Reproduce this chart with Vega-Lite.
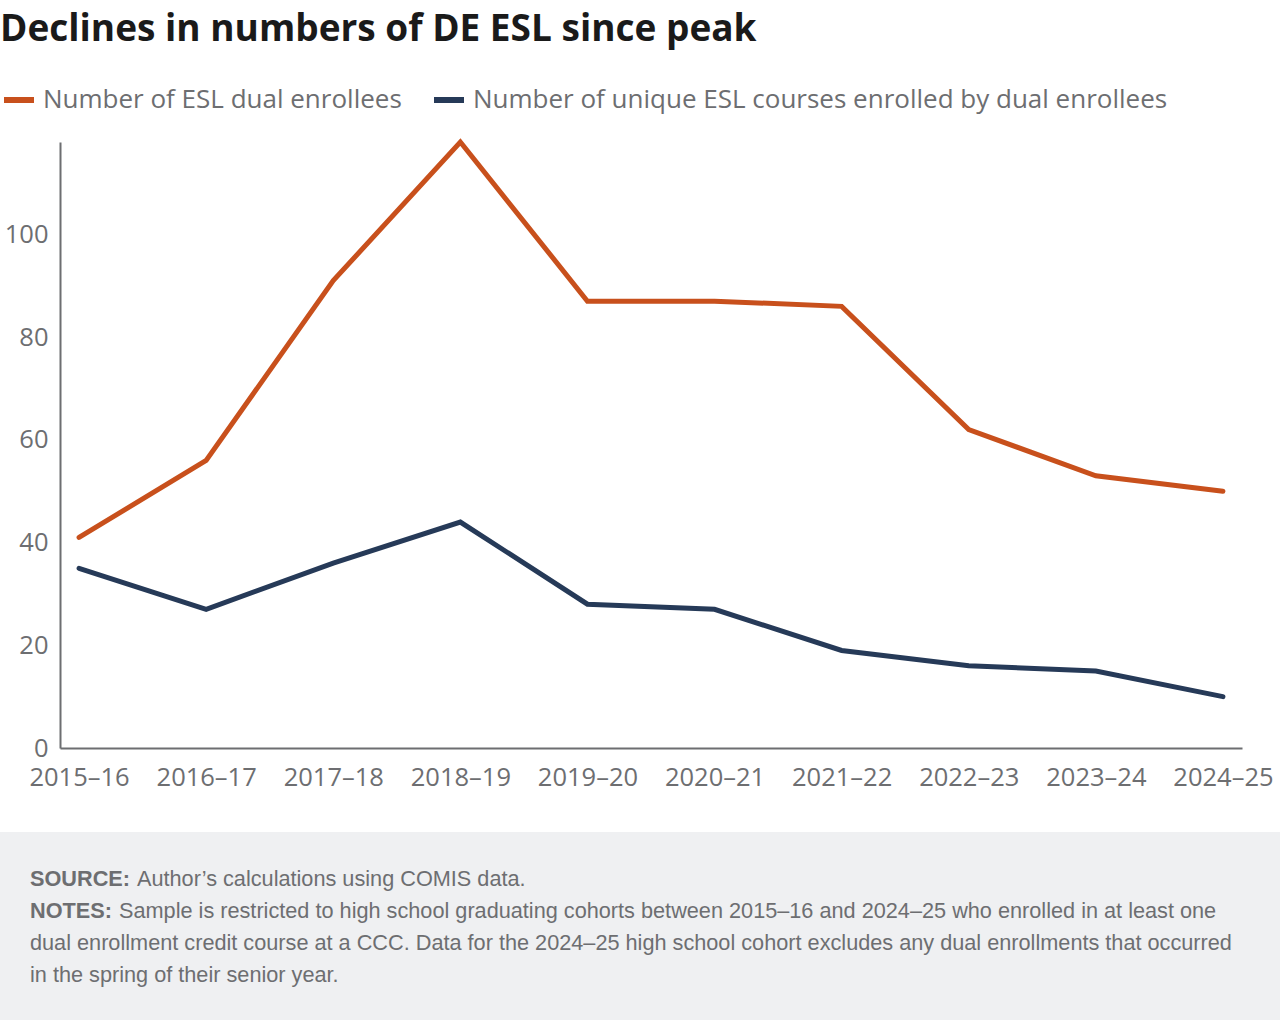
{
  "$schema": "https://vega.github.io/schema/vega-lite/v6.json",
  "background": "white",
  "padding": {"top": 11, "left": 0, "right": 0, "bottom": 0},
  "title": {
    "text": "Declines in numbers of DE ESL since peak",
    "anchor": "start",
    "frame": "bounds",
    "font": "Open Sans",
    "fontSize": 37,
    "fontWeight": "bold",
    "color": "#1a1a1a",
    "offset": 33
  },
  "spacing": 41,
  "config": {
    "font": "Open Sans",
    "view": {"stroke": null}
  },
  "vconcat": [
    {
      "width": 1280,
      "height": 606,
      "data": {
        "values": [
          {"year": "2015–16", "series": "Number of ESL dual enrollees", "value": 41},
          {"year": "2016–17", "series": "Number of ESL dual enrollees", "value": 56},
          {"year": "2017–18", "series": "Number of ESL dual enrollees", "value": 91},
          {"year": "2018–19", "series": "Number of ESL dual enrollees", "value": 118},
          {"year": "2019–20", "series": "Number of ESL dual enrollees", "value": 87},
          {"year": "2020–21", "series": "Number of ESL dual enrollees", "value": 87},
          {"year": "2021–22", "series": "Number of ESL dual enrollees", "value": 86},
          {"year": "2022–23", "series": "Number of ESL dual enrollees", "value": 62},
          {"year": "2023–24", "series": "Number of ESL dual enrollees", "value": 53},
          {"year": "2024–25", "series": "Number of ESL dual enrollees", "value": 50},
          {"year": "2015–16", "series": "Number of unique ESL courses enrolled by dual enrollees", "value": 35},
          {"year": "2016–17", "series": "Number of unique ESL courses enrolled by dual enrollees", "value": 27},
          {"year": "2017–18", "series": "Number of unique ESL courses enrolled by dual enrollees", "value": 36},
          {"year": "2018–19", "series": "Number of unique ESL courses enrolled by dual enrollees", "value": 44},
          {"year": "2019–20", "series": "Number of unique ESL courses enrolled by dual enrollees", "value": 28},
          {"year": "2020–21", "series": "Number of unique ESL courses enrolled by dual enrollees", "value": 27},
          {"year": "2021–22", "series": "Number of unique ESL courses enrolled by dual enrollees", "value": 19},
          {"year": "2022–23", "series": "Number of unique ESL courses enrolled by dual enrollees", "value": 16},
          {"year": "2023–24", "series": "Number of unique ESL courses enrolled by dual enrollees", "value": 15},
          {"year": "2024–25", "series": "Number of unique ESL courses enrolled by dual enrollees", "value": 10}
        ]
      },
      "mark": {"type": "line", "strokeWidth": 5, "strokeCap": "round", "strokeJoin": "miter"},
      "encoding": {
        "x": {
          "field": "year",
          "type": "ordinal",
          "scale": {"type": "point", "padding": 0.15, "range": [60, 1242]},
          "axis": {
            "title": null,
            "labelAngle": 0,
            "ticks": false,
            "domainColor": "#6d6e71",
            "domainWidth": 2,
            "labelColor": "#6d6e71",
            "labelFontSize": 25.5,
            "labelPadding": 17
          }
        },
        "y": {
          "field": "value",
          "type": "quantitative",
          "scale": {"domain": [0, 118], "nice": false},
          "axis": {
            "title": null,
            "offset": -60,
            "values": [0, 20, 40, 60, 80, 100],
            "grid": false,
            "ticks": false,
            "domainColor": "#6d6e71",
            "domainWidth": 2,
            "labelColor": "#6d6e71",
            "labelFontSize": 25.5,
            "labelPadding": 12
          }
        },
        "color": {
          "field": "series",
          "type": "nominal",
          "scale": {
            "domain": ["Number of ESL dual enrollees", "Number of unique ESL courses enrolled by dual enrollees"],
            "range": ["#c8501c", "#263a58"]
          },
          "legend": {
            "title": null,
            "orient": "none",
            "legendX": 1,
            "legendY": -60,
            "direction": "horizontal",
            "symbolType": "stroke",
            "symbolStrokeWidth": 6,
            "symbolSize": 900,
            "labelFontSize": 26,
            "labelColor": "#6d6e71",
            "labelLimit": 1000,
            "labelOffset": 6,
            "columnPadding": 20
          }
        }
      }
    },
    {
      "width": 1280,
      "height": 188,
      "view": {"fill": "#eff0f2", "stroke": null},
      "data": {
        "values": [
          {"line": 1, "label": "SOURCE:", "text": "Author’s calculations using COMIS data."},
          {"line": 2, "label": "NOTES:", "text": "Sample is restricted to high school graduating cohorts between 2015–16 and 2024–25 who enrolled in at least one"},
          {"line": 3, "label": "", "text": "dual enrollment credit course at a CCC. Data for the 2024–25 high school cohort excludes any dual enrollments that occurred"},
          {"line": 4, "label": "", "text": "in the spring of their senior year."}
        ]
      },
      "encoding": {
        "y": {"field": "line", "type": "quantitative", "scale": {"domain": [1, 4], "range": [47, 143], "nice": false, "zero": false}, "axis": null}
      },
      "layer": [
        {
          "mark": {"type": "text", "align": "left", "baseline": "middle", "font": "Liberation Sans", "fontSize": 21.7, "fontWeight": "bold", "color": "#6d6e71"},
          "encoding": {"x": {"value": 30}, "text": {"field": "label"}}
        },
        {
          "transform": [{"filter": "datum.line == 1"}],
          "mark": {"type": "text", "align": "left", "baseline": "middle", "font": "Liberation Sans", "fontSize": 21.7, "color": "#6d6e71", "dx": 107},
          "encoding": {"x": {"value": 30}, "text": {"field": "text"}}
        },
        {
          "transform": [{"filter": "datum.line == 2"}],
          "mark": {"type": "text", "align": "left", "baseline": "middle", "font": "Liberation Sans", "fontSize": 21.7, "color": "#6d6e71", "dx": 89},
          "encoding": {"x": {"value": 30}, "text": {"field": "text"}}
        },
        {
          "transform": [{"filter": "datum.line > 2"}],
          "mark": {"type": "text", "align": "left", "baseline": "middle", "font": "Liberation Sans", "fontSize": 21.7, "color": "#6d6e71"},
          "encoding": {"x": {"value": 30}, "text": {"field": "text"}}
        }
      ]
    }
  ]
}
